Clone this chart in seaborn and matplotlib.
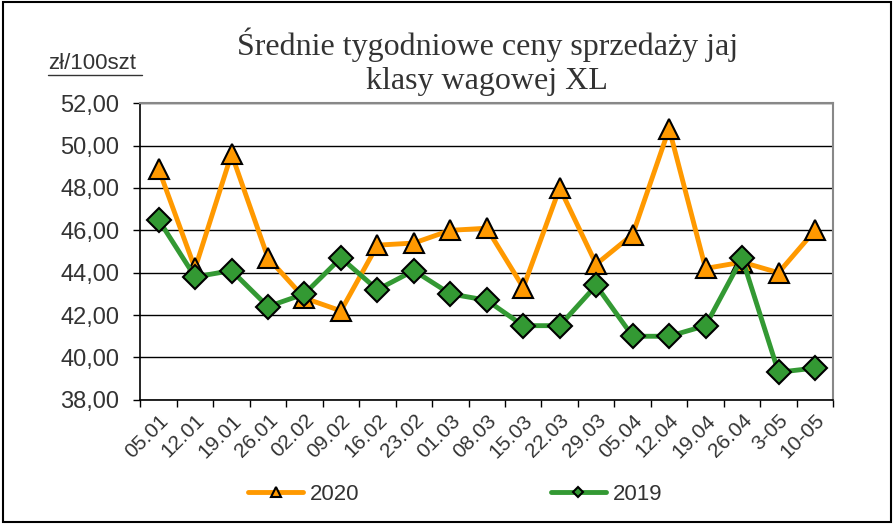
import matplotlib
matplotlib.use("Agg")
import matplotlib.pyplot as plt
import seaborn as sns
import pandas as pd
import numpy as np
from matplotlib.ticker import FixedLocator, FuncFormatter

weeks = ["05.01", "12.01", "19.01", "26.01", "02.02", "09.02", "16.02", "23.02",
         "01.03", "08.03", "15.03", "22.03", "29.03", "05.04", "12.04", "19.04",
         "26.04", "3-05", "10-05"]
prices_2020 = [48.9, 44.2, 49.6, 44.7, 42.8, 42.2, 45.3, 45.4, 46.0, 46.1, 43.3,
               48.0, 44.4, 45.8, 50.8, 44.2, 44.5, 44.0, 46.0]
prices_2019 = [46.5, 43.8, 44.1, 42.4, 43.0, 44.7, 43.2, 44.1, 43.0, 42.7, 41.5,
               41.5, 43.4, 41.0, 41.0, 41.5, 44.7, 39.3, 39.5]
y_ticks = [38, 40, 42, 44, 46, 48, 50, 52]

sns.set_style("white")
plt.rcParams['font.family'] = ['Liberation Sans', 'DejaVu Sans']

fig = plt.figure(figsize=(8.94, 5.24), dpi=100)
ax = fig.add_axes([0.157, 0.237, 0.775, 0.566])

idx = np.arange(len(weeks))
df20 = pd.DataFrame({"x": idx, "y": prices_2020})
df19 = pd.DataFrame({"x": idx, "y": prices_2019})

orange = "#FF9900"
green = "#339933"

sns.lineplot(data=df20, x="x", y="y", ax=ax, color=orange, linewidth=3.5,
             marker="^", markersize=15, markerfacecolor=orange,
             markeredgecolor="black", markeredgewidth=1.5, label="2020", zorder=3)
sns.lineplot(data=df19, x="x", y="y", ax=ax, color=green, linewidth=3.5,
             marker="D", markersize=12, markerfacecolor=green,
             markeredgecolor="black", markeredgewidth=1.5, label="2019", zorder=4)

ax.set_xlim(-0.5, len(weeks) - 0.5)
ax.set_ylim(38, 52)
ax.set_yticks(y_ticks)
ax.yaxis.set_major_formatter(FuncFormatter(lambda v, p: f"{v:.2f}".replace(".", ",")))
ax.yaxis.grid(True, color="black", linewidth=1)
ax.set_axisbelow(True)

ax.set_xticks(idx)
ax.set_xticklabels(weeks, rotation=45, ha="right", rotation_mode="anchor", fontsize=15, color="#333333")
ax.tick_params(axis="x", which="major", length=0, pad=8)
ax.xaxis.set_minor_locator(FixedLocator(np.arange(-0.5, len(weeks), 1.0)))
ax.tick_params(axis="x", which="minor", length=5, width=1, color="black", bottom=True)
ax.tick_params(axis="y", which="major", length=5, width=1, color="black", left=True,
               labelsize=17, labelcolor="#333333", pad=10)
ax.set_xlabel("")
ax.set_ylabel("")

for s in ["left", "bottom"]:
    ax.spines[s].set_color("black")
    ax.spines[s].set_linewidth(1.2)
for s in ["top", "right"]:
    ax.spines[s].set_color("#888888")
    ax.spines[s].set_linewidth(1.5)

leg = ax.legend(loc="center", bbox_to_anchor=(0.509, 0.057), bbox_transform=fig.transFigure,
                ncol=2, frameon=False, fontsize=16, columnspacing=8.6, handlelength=2.5,
                handletextpad=0.3, markerscale=0.45)
for t in leg.get_texts():
    t.set_color("#333333")

fig.text(0.545, 0.915, "Średnie tygodniowe ceny sprzedaży jaj", ha="center", va="center",
         fontsize=23, family=["Liberation Serif", "DejaVu Serif"], color="#333333")
fig.text(0.545, 0.845, "klasy wagowej XL", ha="center", va="center",
         fontsize=23, family=["Liberation Serif", "DejaVu Serif"], color="#333333")
fig.text(0.054, 0.878, "zł/100szt", ha="left", va="center", fontsize=16, color="#333333")
fig.add_artist(plt.Line2D([0.054, 0.159], [0.857, 0.857], color="#333333", linewidth=1,
                          transform=fig.transFigure))

fig.add_artist(plt.Rectangle((0.003, 0.003), 0.994, 0.994, fill=False, edgecolor="black",
                             linewidth=1.5, transform=fig.transFigure))

fig.savefig("out.png", dpi=100)
